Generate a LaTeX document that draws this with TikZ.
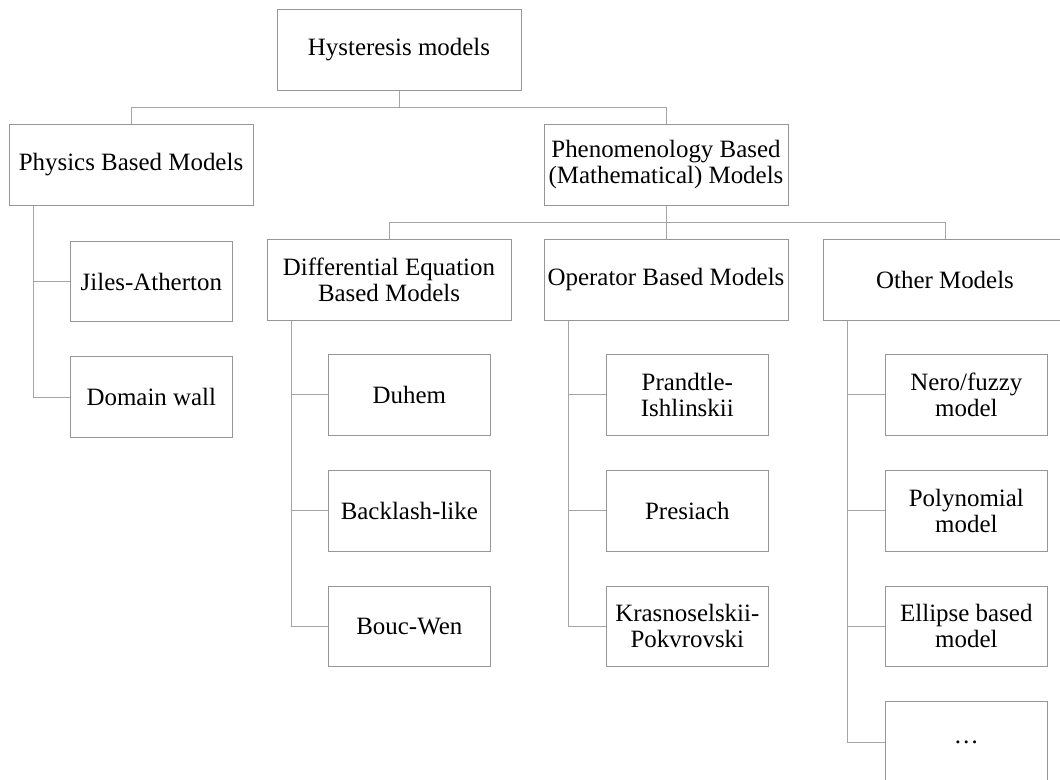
\documentclass[tikz,border=0pt]{standalone}
\usepackage{fontspec}
\setmainfont{Liberation Serif}
\usetikzlibrary{positioning}
\definecolor{boxgray}{RGB}{150,150,150}
\definecolor{linegray}{RGB}{165,165,165}
\tikzstyle{branch}=[rectangle, draw=boxgray, line width=.75pt, minimum width=183pt, minimum height=60.5pt, align=center, inner sep=1pt, font=\fontsize{18.7}{19.5}\selectfont]
\tikzstyle{leaf}=[branch, minimum width=122pt]
\tikzstyle{link}=[draw=linegray, line width=.75pt]

\begin{document}
\begin{tikzpicture}[x=.75pt, y=-.75pt, node distance=25.5pt]
            %tree of hysteresis model families, one spine per family
            \clip (0,0) rectangle (1060,780);
            \coordinate (bus1) at (0,108);
            \coordinate (bus2) at (0,223);
            \node[branch] (hyst) at (399,50) {Hysteresis models};
            \node[branch] (phys) at (131,165) {Physics Based Models};
            \node[branch] (phen) at (666,165) {Phenomenology Based\\(Mathematical) Models};
            \node[branch] (diff) at (389,280) {Differential Equation\\Based Models};
            \node[branch] (oper) at (666,280) {Operator Based Models};
            \node[branch] (other) at (945,280) {Other Models};
            \draw[link] (hyst.south) -- (hyst.south |- bus1);
            \draw[link] (phys.north) |- (bus1 -| phen.north) -- (phen.north);
            \draw[link] (phen.south) -- (oper.north);
            \draw[link] (diff.north) |- (bus2 -| other.north) -- (other.north);
            %first leaf of each family
            \node[leaf, below right=26.25pt and 45.75pt of phys.south west] (jiles) {Jiles-Atherton};
            \node[leaf, below=of jiles] (domain) {Domain wall};
            \node[leaf, below right=25pt and 45.75pt of diff.south west] (duhem) {Duhem};
            \node[leaf, below=of duhem] (backlash) {Backlash-like};
            \node[leaf, below=of backlash] (bouc) {Bouc-Wen};
            \node[leaf, below right=25pt and 46.5pt of oper.south west] (prandtle) {Prandtle-\\Ishlinskii};
            \node[leaf, below=of prandtle] (presiach) {Presiach};
            \node[leaf, below=of presiach] (krasno) {Krasnoselskii-\\Pokvrovski};
            \node[leaf, below right=25pt and 46.5pt of other.south west] (nero) {Nero/fuzzy\\model};
            \node[leaf, below=of nero] (poly) {Polynomial\\model};
            \node[leaf, below=of poly] (ellipse) {Ellipse based\\model};
            \node[leaf, below=of ellipse] (dots) {\dots};
            %spines
            \foreach \fam/\last in {phys/domain, diff/bouc, oper/krasno, other/dots}{
                \coordinate (\fam-sp) at ([xshift=18.75pt]\fam.south west);
                \draw[link] (\fam-sp) |- (\last.west);
            }
            \foreach \leaf/\fam in {jiles/phys, duhem/diff, backlash/diff, prandtle/oper, presiach/oper, nero/other, poly/other, ellipse/other}{
                \draw[link] (\leaf.west) -- (\leaf.west -| \fam-sp);
            }
        \end{tikzpicture}
\end{document}
